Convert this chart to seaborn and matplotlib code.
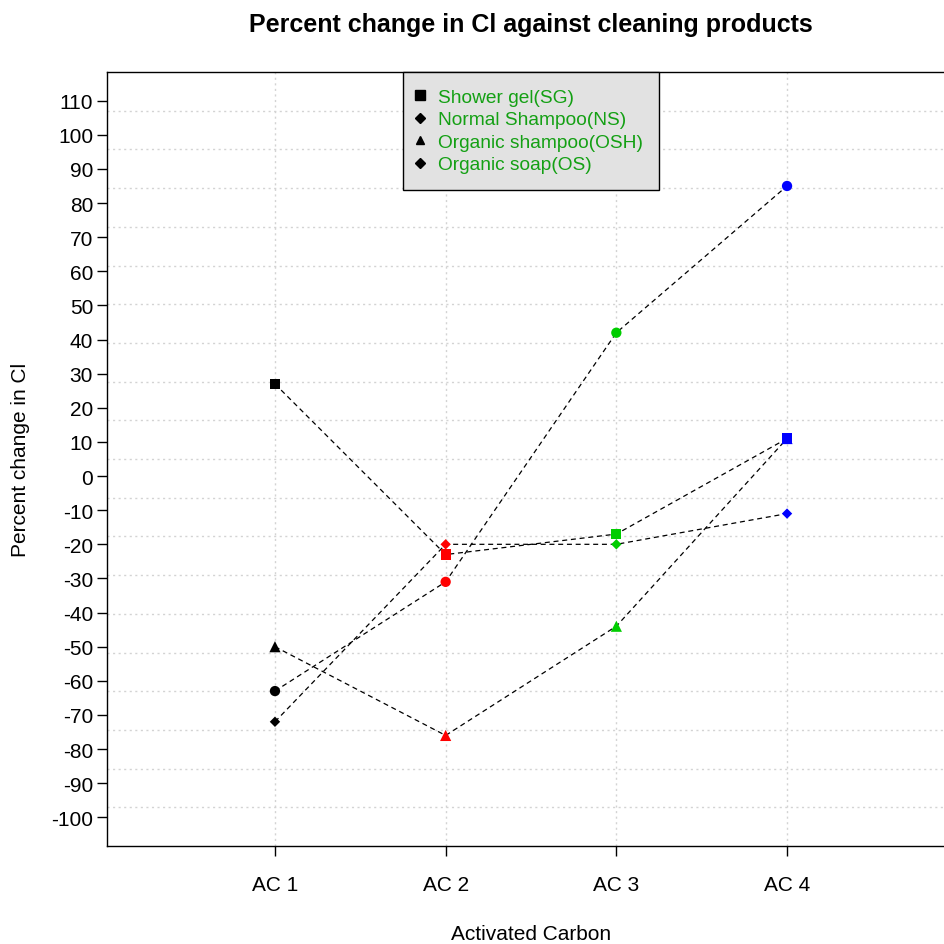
import matplotlib
matplotlib.use("Agg")
import matplotlib.pyplot as plt
from matplotlib.lines import Line2D
import numpy as np
import pandas as pd
import seaborn as sns

# data
ac_labels = ["AC 1", "AC 2", "AC 3", "AC 4"]
products = ["Shower gel(SG)", "Normal Shampoo(NS)", "Organic shampoo(OSH)", "Organic soap(OS)"]
shower_gel = [27, -23, -17, 11]
normal_shampoo = [-63, -31, 42, 85]
organic_shampoo = [-50, -76, -44, 11]
organic_soap = [-72, -20, -20, -11]

ac_colors = ["black", "red", "#00CD00", "blue"]
plot_markers = {"Shower gel(SG)": "s", "Normal Shampoo(NS)": "o",
                "Organic shampoo(OSH)": "^", "Organic soap(OS)": "D"}
legend_markers = ["s", "D", "^", "D"]

rows = []
for name, vals in zip(products, [shower_gel, normal_shampoo, organic_shampoo, organic_soap]):
    for i, v in enumerate(vals):
        rows.append({"product": name, "ac": ac_labels[i], "pos": i + 1, "change": v})
df = pd.DataFrame(rows)

sns.set_style("white")
plt.rcParams["font.family"] = ["Liberation Sans", "DejaVu Sans"]
plt.rcParams["axes.unicode_minus"] = False
plt.rcParams["text.color"] = "black"
plt.rcParams["xtick.color"] = "black"
plt.rcParams["ytick.color"] = "black"
plt.rcParams["axes.labelcolor"] = "black"

fig = plt.figure(figsize=(9.44, 9.45), dpi=100)
ax = fig.add_axes([107 / 944, 98 / 945, 848 / 944, 774 / 945])

ylo, yhi = -108.4, 118.4
ax.set_xlim(0.016, 4.984)
ax.set_ylim(ylo, yhi)

# grid: 20 equal horizontal cells, vertical lines at the categories
for k in range(1, 20):
    ax.axhline(ylo + k * (yhi - ylo) / 20, color="#d3d3d3", lw=1, ls=(0, (1.5, 2.5)), zorder=0)
for p in range(1, 5):
    ax.axvline(p, color="#d3d3d3", lw=1, ls=(0, (1.5, 2.5)), zorder=0)

sns.lineplot(data=df, x="pos", y="change", units="product", estimator=None,
             color="black", lw=0.9, ls=(0, (4, 3)), ax=ax, legend=False, zorder=2)
sizes = {"s": 55, "o": 55, "^": 65, "D": 28}
for name in products:
    sub = df[df["product"] == name]
    m = plot_markers[name]
    sns.scatterplot(data=sub, x="pos", y="change", hue="ac", palette=dict(zip(ac_labels, ac_colors)),
                    marker=m, s=sizes[m], edgecolor="none", ax=ax, legend=False, zorder=3)

ax.set_xticks([1, 2, 3, 4])
ax.set_xticklabels(ac_labels)
ax.set_yticks(np.arange(-100, 111, 10))
ax.tick_params(axis="both", labelsize=15, direction="out", length=7, width=1, color="black",
               left=True, bottom=True)
ax.tick_params(axis="y", pad=3)
ax.tick_params(axis="x", pad=14)

for side in ["left", "top", "bottom"]:
    ax.spines[side].set_visible(True)
    ax.spines[side].set_color("black")
    ax.spines[side].set_linewidth(1)
ax.spines["right"].set_visible(False)

ax.set_xlabel("Activated Carbon", fontsize=15, va="center")
ax.set_ylabel("Percent change in Cl", fontsize=15, va="center")
ax.xaxis.set_label_coords(0.5, -(935 - 847) / 774)
ax.yaxis.set_label_coords(-(107 - 21) / 848, 0.5)
ax.text(0.5, 1 + 48 / 774, "Percent change in Cl against cleaning products",
        transform=ax.transAxes, ha="center", va="center", fontsize=18, fontweight="bold")

handles = [Line2D([], [], ls="none", marker=m, color="black",
                  markersize=(6.5 if i == 0 else 6 if m == "^" else 5)) for i, m in enumerate(legend_markers)]
leg = ax.legend(handles, products, loc="upper center", bbox_to_anchor=(0.5, 1.0), borderaxespad=0,
                fontsize=13.8, frameon=True, fancybox=False, facecolor="#e2e2e2", edgecolor="black",
                handlelength=0.1, handletextpad=0.85, labelspacing=0.27, borderpad=0.85)
leg.get_frame().set_linewidth(1)
leg.get_frame().set_alpha(1)
for t in leg.get_texts():
    t.set_color("#14A014")

fig.savefig("out.png", dpi=100)
